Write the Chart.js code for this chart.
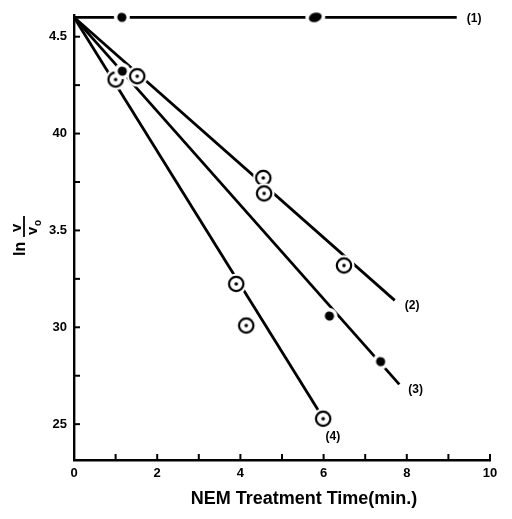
<!DOCTYPE html>
<html>
<head>
<meta charset="utf-8">
<script src="https://cdn.jsdelivr.net/npm/chart.js@4.4.0/dist/chart.umd.min.js"></script>
<style>
html,body{margin:0;padding:0;background:#fff;}
canvas{display:block;}
</style>
</head>
<body>
<canvas id="c" width="512" height="519"></canvas>
<script>
// ---- data ----
const xTickValues = [0,1,2,3,4,5,6,7,8,9,10];
const xTickLabels = ['0','','2','','4','','6','','8','','10'];
const yTickValues = [2.5,2.75,3.0,3.25,3.5,3.75,4.0,4.25,4.5];
const yTickLabels = ['25','','30','','3.5','','40','','4.5'];
const seriesNames = ['(1)','(2)','(3)','(4)'];

// measured points
const s1X = [1.15, 5.8];
const s1Y = [4.60, 4.60];
const s2X = [1.52, 4.55, 4.57, 6.49];
const s2Y = [4.296, 3.771, 3.691, 3.319];
const s3X = [1.16, 6.14, 7.37];
const s3Y = [4.322, 3.058, 2.823];
const s4X = [1.00, 3.90, 4.14, 5.99];
const s4Y = [4.279, 3.224, 3.009, 2.528];

// drawn straight lines (start, end)
const l1X = [0, 9.2];  const l1Y = [4.60, 4.60];
const l2X = [0, 7.71]; const l2Y = [4.60, 3.139];
const l3X = [0, 7.82]; const l3Y = [4.60, 2.705];
const l4X = [0, 5.95]; const l4Y = [4.60, 2.545];

const yMin = 2.315, yMax = 4.612;
const xMin = 0, xMax = 10;

const pts = (xs, ys) => xs.map((x, i) => ({x: x, y: ys[i]}));

function makeRing() {
  const c = document.createElement('canvas');
  c.width = c.height = 24;
  const g = c.getContext('2d');
  g.fillStyle = '#fff';
  g.beginPath(); g.arc(12, 12, 10.5, 0, 2 * Math.PI); g.fill();
  g.lineWidth = 2.2; g.strokeStyle = '#000';
  g.beginPath(); g.arc(12, 12, 7.2, 0, 2 * Math.PI); g.stroke();
  g.fillStyle = '#000';
  g.beginPath(); g.arc(12, 12, 1.8, 0, 2 * Math.PI); g.fill();
  return c;
}
function makeDot(w) {
  const c = document.createElement('canvas');
  c.width = 18 + w; c.height = 18;
  const g = c.getContext('2d');
  g.fillStyle = '#fff';
  g.beginPath(); g.ellipse(9 + w / 2, 9, 8 + w / 2, 8, 0, 0, 2 * Math.PI); g.fill();
  g.fillStyle = '#000';
  g.beginPath(); g.ellipse(9 + w / 2, 9, 4.6 + w / 2, 4.6, -0.3, 0, 2 * Math.PI); g.fill();
  return c;
}
const ringImg = makeRing();
const dotImg = makeDot(0);
const blobImg = makeDot(4);

const FONT = "'Liberation Sans', Arial, sans-serif";

const lineDS = (xs, ys, name) => ({
  label: name, data: pts(xs, ys), showLine: true, borderColor: '#000',
  borderWidth: 2.8, pointRadius: 0, fill: false, order: 2, clip: false
});
const ptDS = (xs, ys, img) => ({
  label: '', data: pts(xs, ys), showLine: false, pointStyle: img,
  pointRadius: 8, order: 1, clip: false
});

const decor = {
  id: 'decor',
  afterDraw(chart) {
    const ctx = chart.ctx;
    const xs = chart.scales.x, ys = chart.scales.y;
    const a = chart.chartArea;
    ctx.save();
    ctx.strokeStyle = '#000';
    ctx.lineWidth = 2;
    // inward tick marks
    xTickValues.forEach(v => {
      if (v === 0) return;
      const px = xs.getPixelForValue(v);
      ctx.beginPath(); ctx.moveTo(px, a.bottom); ctx.lineTo(px, a.bottom - 6); ctx.stroke();
    });
    yTickValues.forEach(v => {
      const py = ys.getPixelForValue(v);
      ctx.beginPath(); ctx.moveTo(a.left, py); ctx.lineTo(a.left + 6, py); ctx.stroke();
    });
    // series labels at line ends
    const offs = [[10, 1], [10, 5], [9, 5], [4, 21]];
    ctx.fillStyle = '#000';
    ctx.font = 'bold 12px ' + FONT;
    ctx.textAlign = 'left';
    ctx.textBaseline = 'middle';
    [0, 1, 2, 3].forEach(i => {
      const meta = chart.getDatasetMeta(i);
      const p = meta.data[meta.data.length - 1];
      ctx.fillText(seriesNames[i], p.x + offs[i][0], p.y + offs[i][1]);
    });
    // x axis title
    ctx.font = 'bold 18px ' + FONT;
    ctx.textAlign = 'center';
    ctx.textBaseline = 'middle';
    ctx.fillText('NEM Treatment Time(min.)', (a.left + a.right) / 2 + 22, 499);
    // y axis title: ln v/v0 rotated
    ctx.translate(25, 256);
    ctx.rotate(-Math.PI / 2);
    ctx.textBaseline = 'alphabetic';
    ctx.textAlign = 'left';
    ctx.font = 'bold 16px ' + FONT;
    ctx.fillText('ln', 0, 0);
    ctx.lineWidth = 1.8;
    ctx.beginPath(); ctx.moveTo(19, -1); ctx.lineTo(40, -1); ctx.stroke();
    ctx.font = 'bold 15px ' + FONT;
    ctx.fillText('v', 24, -4);
    ctx.fillText('v', 21, 12);
    ctx.font = 'bold 10px ' + FONT;
    ctx.fillText('o', 30, 16);
    ctx.restore();
  }
};

new Chart(document.getElementById('c'), {
  type: 'scatter',
  data: {
    datasets: [
      lineDS(l1X, l1Y, seriesNames[0]),
      lineDS(l2X, l2Y, seriesNames[1]),
      lineDS(l3X, l3Y, seriesNames[2]),
      lineDS(l4X, l4Y, seriesNames[3]),
      Object.assign(ptDS(s1X, s1Y, dotImg), {
        pointStyle: s1X.map((x, i) => i === 1 ? blobImg : dotImg)
      }),
      ptDS(s2X, s2Y, ringImg),
      ptDS(s3X, s3Y, dotImg),
      ptDS(s4X, s4Y, ringImg)
    ]
  },
  options: {
    responsive: false,
    animation: false,
    devicePixelRatio: 1,
    layout: { padding: { top: 15, left: 0, right: 22, bottom: 0 } },
    plugins: { legend: { display: false }, tooltip: { enabled: false } },
    scales: {
      x: {
        type: 'linear', min: xMin, max: xMax,
        afterBuildTicks: s => { s.ticks = xTickValues.map(v => ({ value: v })); },
        afterFit: s => { s.height = 59; },
        grid: { display: true, drawOnChartArea: false, drawTicks: false },
        border: { display: true, color: '#000', width: 2.4 },
        ticks: {
          color: '#000', padding: 6, maxRotation: 0, autoSkip: false,
          font: { family: FONT, size: 13, weight: 'bold' },
          callback: (v, i) => xTickLabels[i]
        }
      },
      y: {
        type: 'linear', min: yMin, max: yMax,
        afterBuildTicks: s => { s.ticks = yTickValues.map(v => ({ value: v })); },
        afterFit: s => { s.width = 74; },
        grid: { display: true, drawOnChartArea: false, drawTicks: false },
        border: { display: true, color: '#000', width: 2.4 },
        ticks: {
          color: '#000', padding: 7, autoSkip: false,
          font: { family: FONT, size: 13, weight: 'bold' },
          callback: (v, i) => yTickLabels[i]
        }
      }
    }
  },
  plugins: [decor]
});
</script>
</body>
</html>
